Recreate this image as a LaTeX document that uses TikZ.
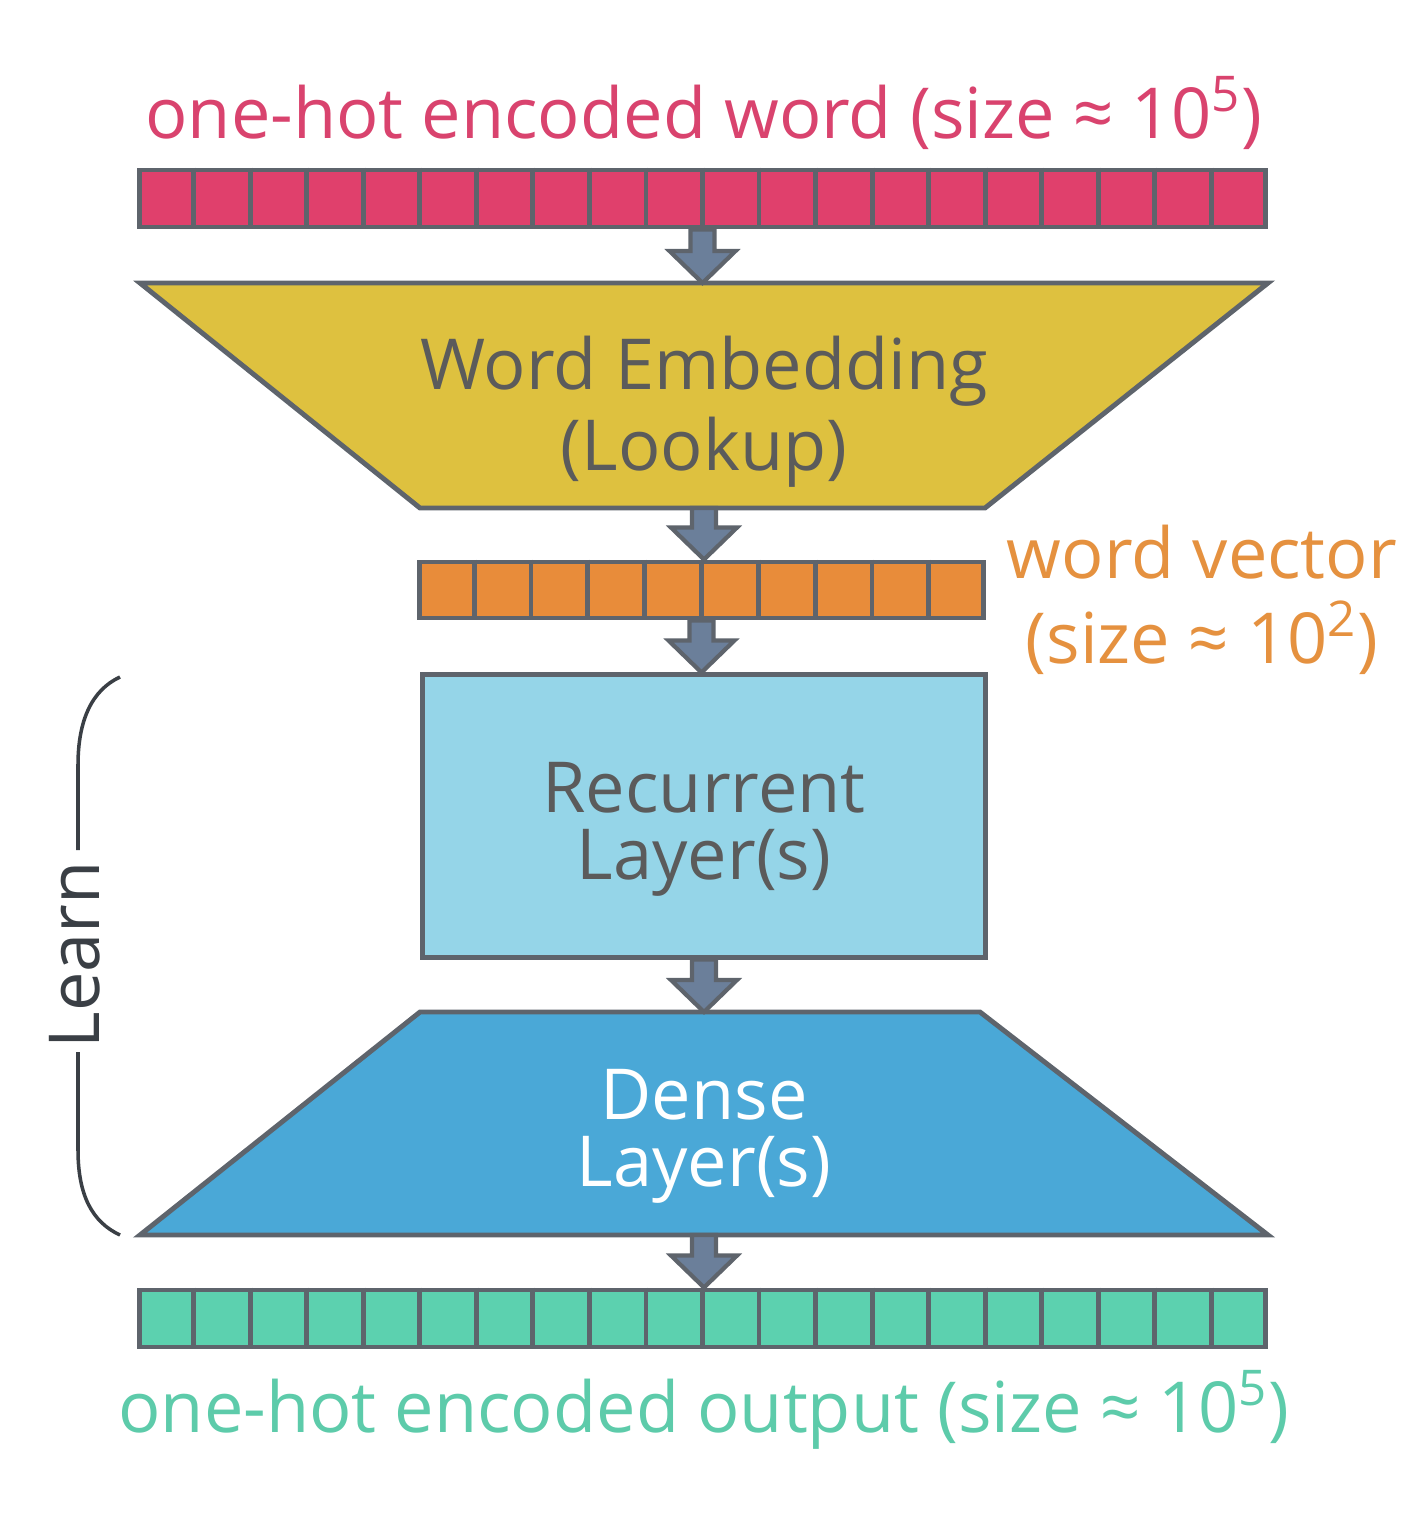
\documentclass[tikz,border=0pt]{standalone}
\usepackage{fontspec}
\setmainfont{Open Sans}
\usetikzlibrary{shapes.geometric, calc, positioning}
\definecolor{hotpink}{HTML}{E0406C}
\definecolor{pinktext}{HTML}{D9436E}
\definecolor{lookupyellow}{HTML}{DEC13F}
\definecolor{vecorange}{HTML}{E88C3A}
\definecolor{orangetext}{HTML}{E5913F}
\definecolor{recblue}{HTML}{95D5E8}
\definecolor{denseblue}{HTML}{4AA8D7}
\definecolor{outgreen}{HTML}{5CD1AF}
\definecolor{greentext}{HTML}{5DCBAA}
\definecolor{flowblue}{HTML}{6B7F9A}
\definecolor{edgegray}{HTML}{5E646C}
\definecolor{labelgray}{HTML}{5B5B5B}
\definecolor{bracegray}{HTML}{3A3F45}
\tikzset{
  bar/.style={rectangle, draw=edgegray, line width=1.4pt, minimum height=0.57cm, inner sep=0pt},
  cell/.style={draw=edgegray, line width=1.4pt},
  layer/.style={draw=edgegray, line width=1.4pt, line join=miter},
  layertext/.style={text=labelgray, align=center, inner sep=0pt, font=\fontsize{20}{19}\selectfont},
  caption/.style={font=\fontsize{20}{24}\selectfont, inner sep=0pt},
  flow/.style={fill=flowblue, draw=edgegray, line width=1.2pt, line join=miter,
    to path={let \p1=(\tikztostart), \p2=(\tikztotarget) in
      (\x1-0.12cm,\y1) -- (\x1+0.12cm,\y1) -- (\x1+0.12cm,\y2+0.32cm) -- (\x1+0.33cm,\y2+0.32cm)
      -- (\x1,\y2) -- (\x1-0.33cm,\y2+0.32cm) -- (\x1-0.12cm,\y2+0.32cm) -- cycle}}
}
\begin{document}
\begin{tikzpicture}[x=0.01cm, y=-0.01cm]
\useasboundingbox (0,0) rectangle (1410,1532);

% input word
\node (intext) [caption, text=pinktext, anchor=base] at (704,138) {one-hot encoded word (size ≈ 10\textsuperscript{5})};
\node (inbar) [bar, fill=hotpink, minimum width=11.25cm] at (702.5,198.5) {};
\foreach \i in {1,...,19}
  \draw[cell] ($(inbar.north west)!\i/20!(inbar.north east)$) -- ($(inbar.south west)!\i/20!(inbar.south east)$);

% embedding
\draw[layer, fill=lookupyellow] (140,283) -- (1268,283) -- (985,508) -- (420,508) -- cycle;
\coordinate (embedtop) at (704,283);
\coordinate (embedbot) at (704,508);
\node (embed) [layertext] at (704,412) {Word Embedding\\[2pt](Lookup)};

% word vector
\node (vecbar) [bar, fill=vecorange, minimum width=5.63cm, minimum height=0.56cm] at (701.5,590) {};
\foreach \i in {1,...,9}
  \draw[cell] ($(vecbar.north west)!\i/10!(vecbar.north east)$) -- ($(vecbar.south west)!\i/10!(vecbar.south east)$);
\node (vectext) [caption, text=orangetext, align=center] at (1202,600) {word vector\\(size ≈ 10\textsuperscript{2})};

% recurrent
\node (recur) [layer, rectangle, fill=recblue, minimum width=5.62cm, minimum height=2.82cm] at (704,816) {};
\node (recurtext) [layertext] at (704,829) {Recurrent\\Layer(s)};

% dense
\draw[layer, fill=denseblue] (420,1012) -- (980,1012) -- (1268,1235) -- (140,1235) -- cycle;
\coordinate (densetop) at (704,1012);
\coordinate (densebot) at (704,1235);
\node (dense) [layertext, text=white] at (704,1136) {Dense\\Layer(s)};

% output
\node (outbar) [bar, fill=outgreen, minimum width=11.25cm] at (702.5,1318.5) {};
\foreach \i in {1,...,19}
  \draw[cell] ($(outbar.north west)!\i/20!(outbar.north east)$) -- ($(outbar.south west)!\i/20!(outbar.south east)$);
\node (outtext) [caption, text=greentext, anchor=base] at (704,1432) {one-hot encoded output (size ≈ 10\textsuperscript{5})};

% arrows
\draw[flow] (inbar.south) to (embedtop);
\draw[flow] (embedbot) to (vecbar.north);
\draw[flow] (vecbar.south) to (recur.north);
\draw[flow] (recur.south) to (densetop);
\draw[flow] (densebot) to (outbar.north);

% learn brace
\node (learn) [caption, text=bracegray, rotate=90] at (75,955) {Learn};
\coordinate (bracetop) at (120,677);
\coordinate (bracebot) at (120,1235);
\draw[bracegray, line width=1pt] (bracetop) .. controls (92,690) and (78,720) .. (78,765) -- (78,850);
\draw[bracegray, line width=1pt] (78,1052) -- (78,1150) .. controls (78,1195) and (92,1222) .. (bracebot);
\end{tikzpicture}
\end{document}
